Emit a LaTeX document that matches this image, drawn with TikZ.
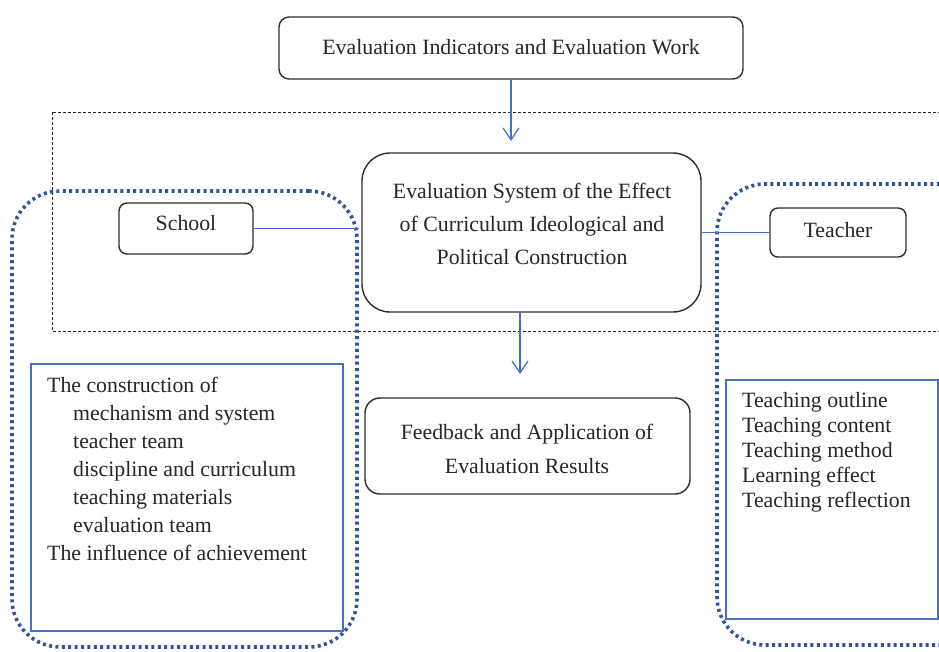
\documentclass[tikz,border=0pt]{standalone}
\usepackage{fontspec}
\setmainfont{Liberation Serif}
\usetikzlibrary{arrows.meta}
\definecolor{lblue}{RGB}{68,114,196}
\definecolor{dblue}{RGB}{47,85,151}
\definecolor{txt}{RGB}{38,38,38}
\definecolor{brd}{RGB}{45,45,45}
\begin{document}
\begin{tikzpicture}[x=1pt,y=-1pt,
  every node/.style={text=txt, inner sep=0pt, font=\fontsize{21.8}{26}\selectfont},
  rbox/.style={draw=brd, line width=1.4pt, rounded corners=#1, fill=white},
  grp/.style={draw=dblue, line width=3.6pt, dash pattern=on 3pt off 3.4pt, rounded corners=48pt},
  listbox/.style={draw=lblue, line width=1.1pt},
  link/.style={draw=lblue, line width=1.2pt},
  flow/.style={draw=lblue, line width=1.2pt, -{Straight Barb[length=12pt,width=16pt,line width=1.2pt]}},
  frame/.style={draw=black!85, line width=1pt, dash pattern=on 3pt off 2pt},
]
\useasboundingbox (0,0) rectangle (939,651);
\clip (0,0) rectangle (939,651);
\fill[white] (0,0) rectangle (939,651);

% dashed frame
\draw[frame] (52,112) rectangle (990,331);

% group outlines
\node[grp, minimum width=345pt, minimum height=456pt] (leftgroup) at (184.5,419) {};
\node[grp, minimum width=290pt, minimum height=461pt] (rightgroup) at (862,414.5) {};

% list boxes
\node[listbox, minimum width=312pt, minimum height=267pt] (leftlist) at (187,497.5) {};
\node[listbox, minimum width=212pt, minimum height=239pt] (rightlist) at (832,499.5) {};

\node[anchor=north west, align=left, font=\fontsize{21.8}{28}\selectfont] (lefttext) at (47,377)
  {The construction of\\
   \hspace*{26pt}mechanism and system\\
   \hspace*{26pt}teacher team\\
   \hspace*{26pt}discipline  and curriculum\\
   \hspace*{26pt}teaching materials\\
   \hspace*{26pt}evaluation team\\
   The influence of achievement};

\node[anchor=north west, align=left, font=\fontsize{21.8}{25}\selectfont] (righttext) at (742,392)
  {Teaching outline\\
   Teaching content\\
   Teaching method\\
   Learning effect\\
   Teaching reflection};

% main boxes
\node[rbox=10pt, minimum width=464pt, minimum height=62pt, text depth=3pt] (top) at (511,48)
  {Evaluation Indicators and Evaluation Work};
\node[rbox=28pt, minimum width=339pt, minimum height=159pt] (central) at (531.5,232.5) {};
\node[anchor=north, align=center, font=\fontsize{21.8}{33}\selectfont] (centraltext) at (532,183)
  {Evaluation System of the Effect\\ of Curriculum Ideological and\\ Political Construction};
\node[rbox=15pt, minimum width=325pt, minimum height=96pt] (feedback) at (527.5,446) {};
\node[anchor=north, align=center, font=\fontsize{21.8}{34}\selectfont] (feedbacktext) at (527,424)
  {Feedback and Application of\\ Evaluation Results};
\node[rbox=8pt, minimum width=134pt, minimum height=51pt, text depth=12pt] (school) at (186,228.5) {School};
\node[rbox=8pt, minimum width=136pt, minimum height=49pt, text depth=6pt] (teacher) at (838,232.5) {Teacher};

% connectors
\coordinate (arrowtip1) at (511,141);
\coordinate (arrowtip2) at (520,374);
\draw[flow] (top.south) -- (arrowtip1);
\draw[flow] (central.south -| arrowtip2) -- (arrowtip2);
\draw[link] (school.east) -- (school.east -| leftgroup.east);
\draw[link] (central.east |- teacher.west) -- (teacher.west);
\end{tikzpicture}
\end{document}
